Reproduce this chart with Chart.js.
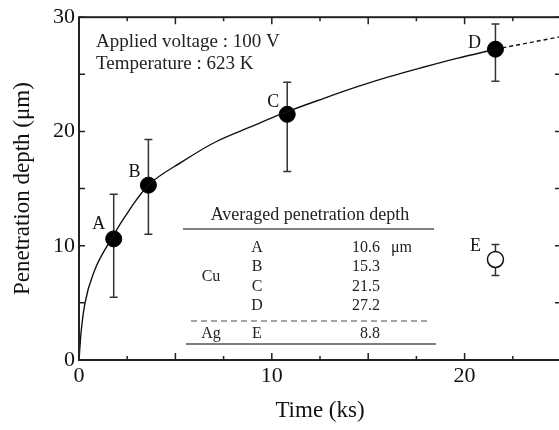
<!DOCTYPE html>
<html>
<head>
<meta charset="utf-8">
<script src="https://cdn.jsdelivr.net/npm/chart.js@4.4.0/dist/chart.umd.min.js"></script>
<style>
html, body { margin: 0; padding: 0; background: #fff; overflow: hidden; }
#wrap { width: 559px; height: 430px; overflow: hidden; }
</style>
</head>
<body>
<div id="wrap"><canvas id="myChart" width="563" height="430"></canvas></div>
<script>
// fitted curve
var curveTime  = [0, 0.1, 0.3, 0.8, 1.5, 2.8, 3.6, 5.4, 7.1, 8.9, 10.6, 12.7, 14.4, 16.1, 17.8, 19.6, 21.6];
var curveDepth = [0, 2.3, 4.9, 7.8, 10.1, 13.6, 15.3, 17.4, 19.1, 20.4, 21.6, 22.9, 23.9, 24.8, 25.6, 26.4, 27.2];
// dashed extrapolation
var extTime  = [21.6, 25];
var extDepth = [27.2, 28.3];

// Cu samples
var cuNames = ["A", "B", "C", "D"];
var cuTime  = [1.8, 3.6, 10.8, 21.6];
var cuDepth = [10.6, 15.3, 21.5, 27.2];
var cuLow   = [5.5, 11.0, 16.5, 24.4];
var cuHigh  = [14.5, 19.3, 24.3, 29.4];

// Ag sample
var agNames = ["E"];
var agTime  = [21.6];
var agDepth = [8.8];
var agLow   = [7.4];
var agHigh  = [10.1];

// label offsets (px) from the point centre: [dx, baseline dy]
var labelOffsets = { A: [-15, -10], B: [-14, -8], C: [-14, -7], D: [-21, -1], E: [-20, -8] };

var serif = "'Liberation Serif', 'Times New Roman', serif";

function toXY(xs, ys) {
    var out = [];
    xs.forEach(function(x, i){ out.push({x: x, y: ys[i]}); });
    return out;
}

var decor = {
    id: "decor",
    beforeDatasetsDraw: function(chart){
        var ctx = chart.ctx;
        var xs = chart.scales.x, ys = chart.scales.y;
        ctx.save();
        ctx.strokeStyle = "#333";
        ctx.lineWidth = 1.5;
        function bars(times, lows, highs){
            times.forEach(function(t, i){
                var px = xs.getPixelForValue(t);
                var lo = ys.getPixelForValue(lows[i]);
                var hi = ys.getPixelForValue(highs[i]);
                ctx.beginPath();
                ctx.moveTo(px, lo); ctx.lineTo(px, hi);
                ctx.moveTo(px - 4, lo); ctx.lineTo(px + 4, lo);
                ctx.moveTo(px - 4, hi); ctx.lineTo(px + 4, hi);
                ctx.stroke();
            });
        }
        bars(cuTime, cuLow, cuHigh);
        bars(agTime, agLow, agHigh);
        ctx.restore();
    },
    afterDatasetsDraw: function(chart){
        var ctx = chart.ctx;
        var a = chart.chartArea;
        var xs = chart.scales.x, ys = chart.scales.y;
        ctx.save();

        // frame
        ctx.strokeStyle = "#222";
        ctx.lineWidth = 2;
        ctx.strokeRect(a.left, a.top, a.right - a.left, a.bottom - a.top);

        // inward tick marks
        ctx.lineWidth = 1.5;
        ctx.beginPath();
        xs.ticks.forEach(function(t){
            var px = xs.getPixelForValue(t.value);
            var len = (t.value % 5 === 0) ? 7 : 4;
            ctx.moveTo(px, a.bottom); ctx.lineTo(px, a.bottom - len);
            ctx.moveTo(px, a.top); ctx.lineTo(px, a.top + len);
        });
        ys.ticks.forEach(function(t){
            var py = ys.getPixelForValue(t.value);
            ctx.moveTo(a.left, py); ctx.lineTo(a.left + 6, py);
            ctx.moveTo(a.right, py); ctx.lineTo(a.right - 6, py);
        });
        ctx.stroke();

        // point labels
        ctx.fillStyle = "#111";
        ctx.font = "18px " + serif;
        ctx.textAlign = "center";
        ctx.textBaseline = "alphabetic";
        function names(list, times, depths){
            list.forEach(function(n, i){
                var off = labelOffsets[n];
                ctx.fillText(n, xs.getPixelForValue(times[i]) + off[0], ys.getPixelForValue(depths[i]) + off[1]);
            });
        }
        names(cuNames, cuTime, cuDepth);
        names(agNames, agTime, agDepth);

        // conditions
        ctx.fillStyle = "#222";
        ctx.textAlign = "left";
        ctx.font = "19px " + serif;
        ctx.fillText("Applied voltage : 100 V", 96, 47);
        ctx.fillText("Temperature : 623 K", 96, 69);

        // inset table
        ctx.textAlign = "center";
        ctx.textBaseline = "middle";
        ctx.font = "18px " + serif;
        ctx.fillText("Averaged penetration depth", 310, 215);

        ctx.strokeStyle = "#555";
        ctx.lineWidth = 1.3;
        ctx.beginPath();
        ctx.moveTo(183, 229); ctx.lineTo(434, 229);
        ctx.moveTo(186, 344); ctx.lineTo(436, 344);
        ctx.stroke();
        ctx.strokeStyle = "#888";
        ctx.setLineDash([6, 4]);
        ctx.beginPath();
        ctx.moveTo(191, 321); ctx.lineTo(427, 321);
        ctx.stroke();
        ctx.setLineDash([]);

        var rowY = [248, 267, 287, 306];
        ctx.font = "16px " + serif;
        ctx.fillText("Cu", 211, 277);
        ctx.fillText("Ag", 211, 334);
        cuNames.forEach(function(n, i){
            ctx.textAlign = "center";
            ctx.fillText(n, 257, rowY[i]);
            ctx.textAlign = "right";
            ctx.fillText(cuDepth[i].toFixed(1), 380, rowY[i]);
        });
        ctx.textAlign = "center";
        ctx.fillText(agNames[0], 257, 334);
        ctx.textAlign = "right";
        ctx.fillText(agDepth[0].toFixed(1), 380, 334);
        ctx.textAlign = "left";
        ctx.fillText("\u03bcm", 391, rowY[0]);

        ctx.restore();
    }
};

var ctx = document.getElementById("myChart");
var chart = new Chart(ctx, {
    type: "scatter",
    data: {
        datasets: [
            {
                data: toXY(curveTime, curveDepth),
                showLine: true,
                borderColor: "#111",
                borderWidth: 1.4,
                pointRadius: 0,
                cubicInterpolationMode: "monotone"
            },
            {
                data: toXY(extTime, extDepth),
                showLine: true,
                borderColor: "#111",
                borderWidth: 1.4,
                borderDash: [4, 3],
                pointRadius: 0
            },
            {
                data: toXY(cuTime, cuDepth),
                pointRadius: 8,
                pointBackgroundColor: "#000",
                pointBorderColor: "#000",
                pointBorderWidth: 1
            },
            {
                data: toXY(agTime, agDepth),
                pointRadius: 8,
                pointBackgroundColor: "#fff",
                pointBorderColor: "#111",
                pointBorderWidth: 1.5
            }
        ]
    },
    options: {
        responsive: false,
        animation: false,
        layout: { autoPadding: false, padding: { top: 15, right: 2, left: 0, bottom: 0 } },
        plugins: {
            legend: { display: false },
            tooltip: { enabled: false }
        },
        scales: {
            x: {
                type: "linear",
                min: 0,
                max: 25,
                grid: { display: false, drawTicks: false },
                border: { display: false },
                ticks: {
                    stepSize: 2.5,
                    autoSkip: false,
                    maxRotation: 0,
                    padding: 3,
                    color: "#111",
                    font: { family: serif, size: 22 },
                    callback: function(v){ return v % 10 === 0 ? v : ""; }
                },
                title: {
                    display: true,
                    text: "Time (ks)",
                    color: "#111",
                    font: { family: serif, size: 23 },
                    padding: { top: 0, bottom: 5 }
                },
                afterFit: function(scale){
                    scale.height = 70;
                    scale.paddingLeft = 0;
                    scale.paddingRight = 0;
                }
            },
            y: {
                type: "linear",
                min: 0,
                max: 30,
                grid: { display: false, drawTicks: false },
                border: { display: false },
                ticks: {
                    stepSize: 5,
                    autoSkip: false,
                    padding: 4,
                    color: "#111",
                    font: { family: serif, size: 22 },
                    callback: function(v){ return v % 10 === 0 ? v : ""; }
                },
                title: {
                    display: true,
                    text: "Penetration depth (\u03bcm)",
                    color: "#111",
                    font: { family: serif, size: 23 },
                    padding: { top: 9, bottom: 0 }
                },
                afterFit: function(scale){ scale.width = 79; }
            }
        }
    },
    plugins: [decor]
});
</script>
</body>
</html>
